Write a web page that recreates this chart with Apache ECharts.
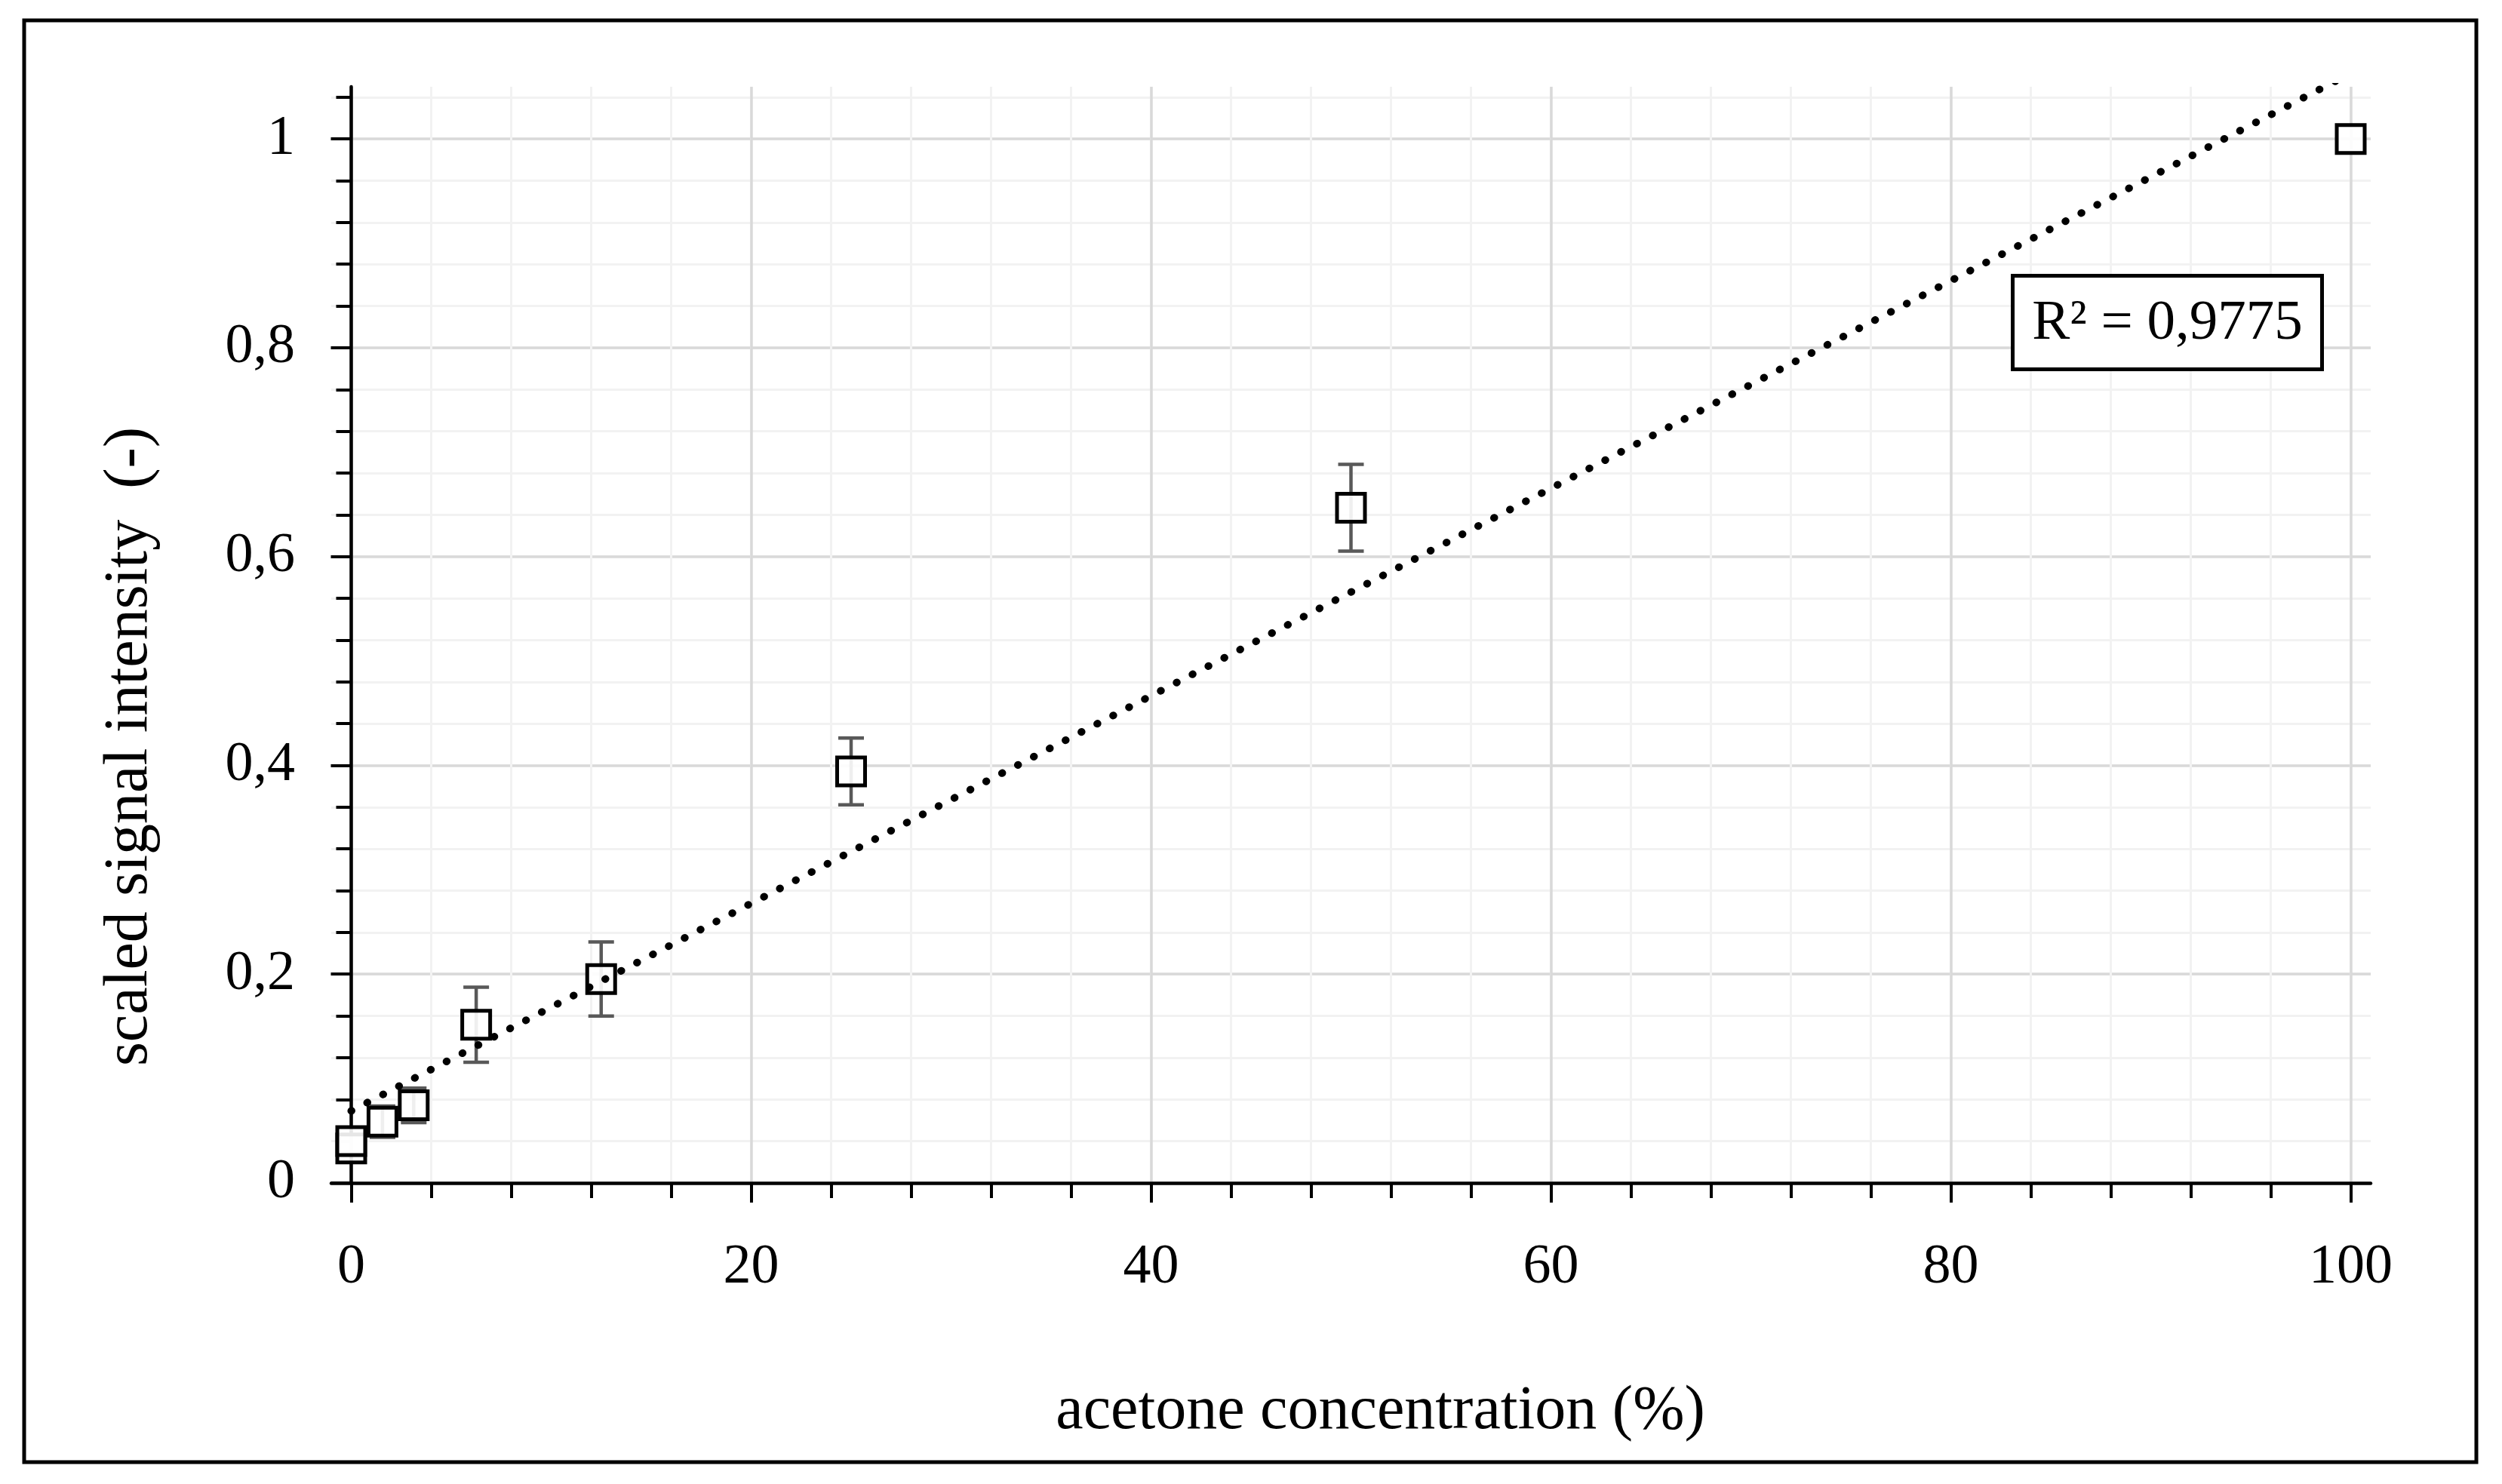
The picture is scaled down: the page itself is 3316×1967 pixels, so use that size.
<!DOCTYPE html>
<html>
<head>
<meta charset="utf-8">
<script src="https://cdn.jsdelivr.net/npm/echarts@6/dist/echarts.min.js"></script>
<style>
  html, body { margin: 0; padding: 0; background: #fff; }
  #chart { width: 3316px; height: 1967px; }
</style>
</head>
<body>
<div id="chart"></div>
<script>
// ---- data ----
const xValues = [0, 0, 1.5625, 3.125, 6.25, 12.5, 25, 50, 100];
const yValues = [0.033, 0.0401, 0.0587, 0.0744, 0.1516, 0.1953, 0.3942, 0.6468, 1.0];
const yErrors = [0, 0, 0.015, 0.0165, 0.036, 0.0355, 0.032, 0.0416, 0];

// dotted trend line end points
const trendX = [0, 100];
const trendY = [0.069, 1.063];

// ticks
const xMajorTicks = [0, 20, 40, 60, 80, 100];
const xMinorTicks = [0, 4, 8, 12, 16, 20, 24, 28, 32, 36, 40, 44, 48, 52, 56, 60, 64, 68, 72, 76, 80, 84, 88, 92, 96, 100];
const yMajorTicks = [0, 0.2, 0.4, 0.6, 0.8, 1];
const yMinorTicks = [0, 0.04, 0.08, 0.12, 0.16, 0.2, 0.24, 0.28, 0.32, 0.36, 0.4, 0.44, 0.48, 0.52, 0.56, 0.6, 0.64, 0.68, 0.72, 0.76, 0.8, 0.84, 0.88, 0.92, 0.96, 1, 1.04];

const xTitle = 'acetone concentration (%)';
const yTitle = 'scaled signal intensity  (-)';
const r2Text = 'R\u00B2 = 0,9775';

// ---- chart ----
const FONT = "'Liberation Serif', 'Times New Roman', serif";
const chart = echarts.init(document.getElementById('chart'), null, { renderer: 'canvas' });

const gridRect = { left: 439, right: 174, top: 115, bottom: 399 };

const scatterData = xValues.map((x, i) => [x, yValues[i]]);
const errData = [];
xValues.forEach((x, i) => {
  if (yErrors[i] > 0) errData.push([x, yValues[i] - yErrors[i], yValues[i] + yErrors[i]]);
});
const trendData = trendX.map((x, i) => [x, trendY[i]]);

const option = {
  animation: false,
  backgroundColor: '#fff',
  grid: [
    Object.assign({}, gridRect),
    Object.assign({}, gridRect)
  ],
  xAxis: [
    { // minor grid/ticks
      type: 'value', gridIndex: 0, min: -1, max: 101,
      axisLine: { show: false },
      axisTick: { show: true, customValues: xMinorTicks, length: 20, lineStyle: { color: '#000', width: 4 } },
      axisLabel: { show: false },
      splitLine: { show: true, lineStyle: { color: '#f2f2f2', width: 3 } }
    },
    { // major
      type: 'value', gridIndex: 1, min: -1, max: 101,
      axisLine: { show: true, lineStyle: { color: '#000', width: 4.5 } },
      axisTick: { show: true, customValues: xMajorTicks, length: 26, lineStyle: { color: '#000', width: 4 } },
      axisLabel: { show: true, customValues: xMajorTicks, margin: 76, fontSize: 74, fontFamily: FONT, color: '#000' },
      splitLine: { show: true, lineStyle: { color: '#d9d9d9', width: 3.5 } },
      name: xTitle,
      nameLocation: 'middle',
      nameGap: 262,
      nameTextStyle: { fontSize: 82, fontFamily: FONT, color: '#000', padding: [0, 0, 0, 78] }
    }
  ],
  yAxis: [
    { // minor
      type: 'value', gridIndex: 0, min: 0, max: 1.05,
      axisLine: { show: false },
      axisTick: { show: true, customValues: yMinorTicks, length: 20, lineStyle: { color: '#000', width: 4 } },
      axisLabel: { show: false },
      splitLine: { show: true, lineStyle: { color: '#f2f2f2', width: 3 } }
    },
    { // major
      type: 'value', gridIndex: 1, min: 0, max: 1.05,
      axisLine: { show: true, lineStyle: { color: '#000', width: 4.5 } },
      axisTick: { show: true, customValues: yMajorTicks, length: 27, lineStyle: { color: '#000', width: 4 } },
      axisLabel: {
        show: true, customValues: yMajorTicks, margin: 48, fontSize: 74, fontFamily: FONT, color: '#000',
        formatter: v => String(Math.round(v * 10) / 10).replace('.', ',')
      },
      splitLine: { show: true, lineStyle: { color: '#d9d9d9', width: 3.5 } },
      name: yTitle,
      nameLocation: 'middle',
      nameGap: 226,
      nameTextStyle: { fontSize: 82, fontFamily: FONT, color: '#000', padding: [0, 296, 0, 0] }
    }
  ],
  series: [
    {
      type: 'custom',
      xAxisIndex: 1, yAxisIndex: 1,
      data: errData,
      encode: { x: 0, y: [1, 2] },
      silent: true,
      z: 2,
      renderItem: function (params, api) {
        const x = api.value(0);
        const pLo = api.coord([x, api.value(1)]);
        const pHi = api.coord([x, api.value(2)]);
        const hw = 17;
        const style = { stroke: '#595959', lineWidth: 4.5, fill: null };
        return {
          type: 'group',
          children: [
            { type: 'line', shape: { x1: pHi[0], y1: pHi[1], x2: pLo[0], y2: pLo[1] }, style: style },
            { type: 'line', shape: { x1: pHi[0] - hw, y1: pHi[1], x2: pHi[0] + hw, y2: pHi[1] }, style: style },
            { type: 'line', shape: { x1: pLo[0] - hw, y1: pLo[1], x2: pLo[0] + hw, y2: pLo[1] }, style: style }
          ]
        };
      }
    },
    {
      type: 'scatter',
      xAxisIndex: 1, yAxisIndex: 1,
      data: scatterData,
      symbol: 'rect',
      symbolSize: 37,
      silent: true,
      z: 3,
      itemStyle: { color: 'rgba(255,255,255,0.9)', borderColor: '#000', borderWidth: 5, opacity: 1 }
    },
    {
      type: 'line',
      xAxisIndex: 1, yAxisIndex: 1,
      data: trendData,
      showSymbol: false,
      symbol: 'none',
      silent: true,
      clip: true,
      z: 4,
      lineStyle: { color: '#000', width: 10, type: [0.5, 23.2], cap: 'round' }
    }
  ],
  graphic: [
    {
      type: 'rect', z: 100, silent: true,
      shape: { x: 32, y: 27, width: 3250, height: 1911 },
      style: { fill: null, stroke: '#000', lineWidth: 5 }
    },
    {
      type: 'group', left: 2665, top: 363, z: 100, silent: true,
      children: [
        { type: 'rect', z: 100, shape: { x: 0, y: 0, width: 410, height: 124 }, style: { fill: '#fff', stroke: '#000', lineWidth: 5 } },
        { type: 'text', z: 101, x: 205, y: 64, style: { text: r2Text, fontSize: 75, fontFamily: FONT, fill: '#000', align: 'center', verticalAlign: 'middle' } }
      ]
    }
  ]
};

chart.setOption(option);
</script>
</body>
</html>
